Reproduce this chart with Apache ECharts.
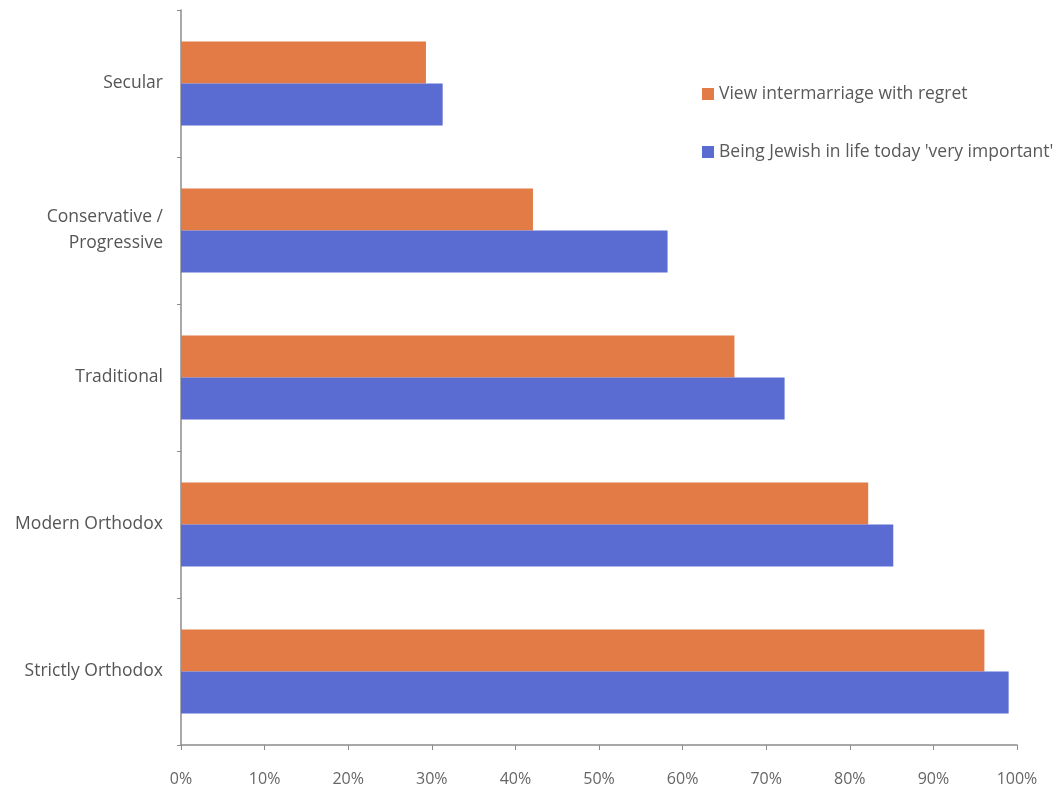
<!DOCTYPE html>
<html>
<head>
<meta charset="utf-8">
<script src="https://cdn.jsdelivr.net/npm/echarts@6/dist/echarts.min.js"></script>
<style>
html, body { margin: 0; padding: 0; background: #fff; }
#chartBox { width: 1064px; height: 793px; }
</style>
</head>
<body>
<div id="chartBox"></div>
<script>
var categories = ['Secular', 'Conservative /\nProgressive', 'Traditional', 'Modern Orthodox', 'Strictly Orthodox'];
var regretValues = [29.3, 42.1, 66.2, 82.2, 96.1];
var importantValues = [31.3, 58.2, 72.2, 85.2, 99.0];
var xTicks = [0, 10, 20, 30, 40, 50, 60, 70, 80, 90, 100];

var myChart = echarts.init(document.getElementById('chartBox'));
var option = {
    animation: false,
    textStyle: { fontFamily: 'Open Sans' },
    legend: {
        orient: 'vertical',
        left: 697,
        top: 79,
        itemWidth: 12,
        itemHeight: 12,
        itemGap: 38,
        icon: 'rect',
        textStyle: { color: '#595959', fontSize: 17.5, lineHeight: 20 },
        data: ['View intermarriage with regret', "Being Jewish in life today 'very important'"]
    },
    grid: {
        left: 181,
        right: 47,
        top: 10,
        bottom: 48
    },
    xAxis: {
        type: 'value',
        min: 0,
        max: 100,
        interval: 10,
        splitLine: { show: false },
        axisLine: { show: true, lineStyle: { color: '#8c8c8c', width: 1.5 } },
        axisTick: { show: true, length: 5, lineStyle: { color: '#8c8c8c' } },
        axisLabel: {
            margin: 26,
            color: '#666',
            fontSize: 16,
            formatter: function (v) { return xTicks.indexOf(v) >= 0 ? v + '%' : ''; }
        }
    },
    yAxis: {
        type: 'category',
        inverse: true,
        data: categories,
        axisLine: { show: true, lineStyle: { color: '#8c8c8c', width: 1.5 } },
        axisTick: { show: true, length: 4, lineStyle: { color: '#8c8c8c' } },
        axisLabel: {
            margin: 18,
            color: '#555',
            fontSize: 17.5,
            lineHeight: 26,
            align: 'right'
        }
    },
    series: [{
        name: 'View intermarriage with regret',
        type: 'bar',
        data: regretValues,
        barWidth: 42,
        barGap: '0%',
        itemStyle: { color: '#e27b45' }
    }, {
        name: "Being Jewish in life today 'very important'",
        type: 'bar',
        data: importantValues,
        barWidth: 42,
        itemStyle: { color: '#5a6bd2' }
    }]
};
myChart.setOption(option);
</script>
</body>
</html>
